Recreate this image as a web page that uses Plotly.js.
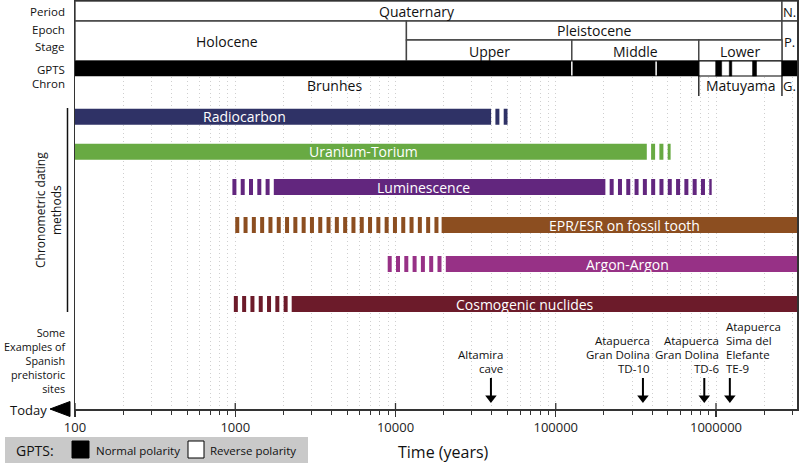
<!DOCTYPE html>
<html><head><meta charset="utf-8">
<script src="https://cdn.plot.ly/plotly-3.0.1.min.js"></script>
<style>html,body{margin:0;padding:0;background:#fff}#chart{width:800px;height:465px}</style>
</head><body><div id="chart"></div>
<script>
// ---------------- data ----------------
const methods = ['Radiocarbon','Uranium-Torium','Luminescence','EPR/ESR on fossil tooth','Argon-Argon','Cosmogenic nuclides'];
const solidStart = [100, 100, 1740, 19400, 20600, 2250];
const solidEnd   = [39500, 370000, 204000, 3300000, 3300000, 3300000];
const dashBefore = [null, null, 960, 1000, 8940, 980];
const dashAfter  = [50000, 521000, 940000, null, null, null];

const periodNames = ['Quaternary', 'N.'];
const periodBounds = [100, 2580000, 3300000];
const epochNames = ['Holocene', 'Pleistocene'];
const epochBounds = [100, 11700, 2580000];
const stageNames = ['Upper', 'Middle', 'Lower'];
const stageBounds = [11700, 126000, 781000, 2580000];
const normalStart = [100, 995000, 1210000, 1690000, 2580000];
const normalEnd   = [781000, 1085000, 1255000, 1790000, 3300000];
const reverseStart = [781000];
const reverseEnd   = [2580000];
const gptsMarks = [126000, 423000];
const chronNames = ['Brunhes', 'Matuyama', 'G.'];
const chronBounds = [100, 781000, 2580000, 3300000];

const sites = ['Altamira cave', 'Atapuerca Gran Dolina TD-10', 'Atapuerca Gran Dolina TD-6', 'Atapuerca Sima del Elefante TE-9'];
const siteAges = [39400, 350000, 845000, 1220000];

const tickVals = [100, 1000, 10000, 100000, 1000000];
const tickText = ['100', '1000', '10000', '100000', '1000000'];

// ---------------- styling / layout ----------------
const colors = ['#2f3266', '#68aa43', '#62267e', '#8c4e20', '#973186', '#6c1b2a'];
const rowCenters = [116.7, 151.7, 187, 225, 264, 304];
const barH = 16;
const labelPos = [3.055, 3.80, 4.172, 5.43, 5.45, 4.811];
const siteLabelLines = [['Altamira', 'cave'], ['Atapuerca', 'Gran Dolina', 'TD-10'], ['Atapuerca', 'Gran Dolina', 'TD-6'], ['Atapuerca', 'Sima del', 'Elefante', 'TE-9']];
const siteLabelShift = [13, 8, 16, -5];
const siteLabelAnchor = ['right', 'right', 'right', 'left'];

const FONT = 'Open Sans, Noto Sans, sans-serif';
const L = 75, R = 3, T = 1, B = 56, W = 800, H = 465;
const pw = W - L - R, ph = H - T - B;
const PX = x => (x - L) / pw;
const PY = y => (H - B - y) / ph;
const XMAX = 2 + pw / 160.25;
const lg = Math.log10;

const traces = [];
traces.push({
  type: 'bar', orientation: 'h', y: rowCenters, base: solidStart,
  x: solidEnd.map((e, i) => e - solidStart[i]), width: barH,
  marker: {color: colors, line: {width: 0}}, hoverinfo: 'skip', showlegend: false
});
methods.forEach((m, i) => {
  if (dashBefore[i] !== null) traces.push({type: 'scatter', mode: 'lines', x: [dashBefore[i], solidStart[i]], y: [rowCenters[i], rowCenters[i]],
    line: {color: colors[i], width: barH, dash: '4px,4.3px'}, hoverinfo: 'skip', showlegend: false});
  if (dashAfter[i] !== null) traces.push({type: 'scatter', mode: 'lines', x: [solidEnd[i], dashAfter[i]], y: [rowCenters[i], rowCenters[i]],
    line: {color: colors[i], width: barH, dash: '0px,4.3px,4px,0px'}, hoverinfo: 'skip', showlegend: false});
});
siteAges.forEach(a => {
  traces.push({type: 'scatter', mode: 'lines', x: [a, a], y: [378, 396], line: {color: '#000', width: 2}, hoverinfo: 'skip', showlegend: false});
  traces.push({type: 'scatter', mode: 'markers', x: [a], y: [398], marker: {symbol: 'triangle-down', size: 10, color: '#000'}, hoverinfo: 'skip', showlegend: false});
});

const shapes = [];
const box = (x0, x1, y0, y1, fill, lc, lw) => shapes.push({type: 'rect', xref: 'x', yref: 'y', x0, x1, y0, y1, fillcolor: fill, line: {color: lc, width: lw}, layer: 'between'});
const lineS = (x0, x1, y0, y1, c, w, xref, yref, layer) => shapes.push({type: 'line', xref: xref || 'x', yref: yref || 'y', x0, x1, y0, y1, line: {color: c, width: w}, layer: layer || 'between'});
const BOX = '#444';
for (let i = 0; i < periodNames.length; i++) box(periodBounds[i], periodBounds[i + 1], 1, 21, '#fff', BOX, 1.4);
box(epochBounds[0], epochBounds[1], 21, 61, '#fff', BOX, 1.4);
box(epochBounds[1], epochBounds[2], 21, 40, '#fff', BOX, 1.4);
box(periodBounds[1], periodBounds[2], 21, 61, '#fff', BOX, 1.4);
for (let i = 0; i < stageNames.length; i++) box(stageBounds[i], stageBounds[i + 1], 40, 61, '#fff', BOX, 1.4);
for (let i = 0; i < reverseStart.length; i++) box(reverseStart[i], reverseEnd[i], 61, 76, '#fff', '#000', 1.2);
for (let i = 0; i < normalStart.length; i++) box(normalStart[i], normalEnd[i], 61, 76, '#000', '#000', 0.5);
gptsMarks.forEach(v => lineS(v, v, 61.5, 75.5, '#fff', 1.5));
[chronBounds[1], chronBounds[2]].forEach(v => lineS(v, v, 76, 96, '#111', 1.3));
tickVals.forEach(v => lineS(v, v, 403, 409, '#333', 1.3, 'x', 'y', 'above'));
// left bracket line
lineS(PX(67.5), PX(67.5), PY(108), PY(312), '#111', 1.5, 'paper', 'paper', 'above');
// Today triangle
shapes.push({type: 'path', xref: 'paper', yref: 'paper', path: `M${PX(50)},${PY(409)} L${PX(70)},${PY(401.5)} L${PX(70)},${PY(416.5)} Z`, fillcolor: '#000', line: {color: '#000', width: 1}});
// legend
shapes.push({type: 'rect', xref: 'paper', yref: 'paper', x0: PX(5), x1: PX(308), y0: PY(437), y1: PY(463), fillcolor: '#c9c9c9', line: {width: 0}});
shapes.push({type: 'rect', xref: 'paper', yref: 'paper', x0: PX(72), x1: PX(89), y0: PY(441), y1: PY(458), fillcolor: '#000', line: {color: '#000', width: 1}});
shapes.push({type: 'rect', xref: 'paper', yref: 'paper', x0: PX(188), x1: PX(204), y0: PY(441), y1: PY(458), fillcolor: '#fff', line: {color: '#000', width: 1}});

const ann = [];
const A = (o) => ann.push(Object.assign({showarrow: false, xanchor: 'center', yanchor: 'middle', font: {family: FONT, size: 14, color: '#111'}}, o));
// header labels
const mid = (a, b) => (lg(a) + lg(b)) / 2;
const SF = {family: FONT, size: 13, color: '#111'};
A({text: periodNames[0], xref: 'x', yref: 'y', x: 4.134, y: 11.5});
A({text: periodNames[1], xref: 'x', yref: 'y', x: (lg(periodBounds[1]) + XMAX) / 2, y: 11.5, font: SF});
A({text: epochNames[0], xref: 'x', yref: 'y', x: 2.949, y: 41.5});
A({text: epochNames[1], xref: 'x', yref: 'y', x: mid(epochBounds[1], epochBounds[2]), y: 30.5});
A({text: 'P.', xref: 'x', yref: 'y', x: (lg(periodBounds[1]) + XMAX) / 2, y: 41.5, font: SF});
stageNames.forEach((s, i) => A({text: s, xref: 'x', yref: 'y', x: mid(stageBounds[i], stageBounds[i + 1]), y: 51.5}));
A({text: chronNames[0], xref: 'x', yref: 'y', x: 3.62, y: 85.5});
A({text: chronNames[1], xref: 'x', yref: 'y', x: mid(chronBounds[1], chronBounds[2]), y: 85.5});
A({text: chronNames[2], xref: 'x', yref: 'y', x: (lg(chronBounds[2]) + XMAX) / 2, y: 85.5, font: SF});
// method labels
methods.forEach((m, i) => A({text: m, xref: 'x', yref: 'y', x: labelPos[i], y: rowCenters[i], font: {family: FONT, size: 14, color: '#fff'}}));
// left labels
const LF = {family: FONT, size: 11.5, color: '#111'};
[['Period', 11], ['Epoch', 29], ['Stage', 46], ['GPTS', 69], ['Chron', 83]].forEach(([t, y]) => A({text: t, xref: 'paper', yref: 'y', x: PX(67), y, xanchor: 'right', font: LF}));
A({text: 'Some<br>Examples of<br>Spanish<br>prehistoric<br>sites', xref: 'paper', yref: 'y', x: PX(67), y: 360.5, xanchor: 'right', align: 'right', borderpad: 0, font: {family: FONT, size: 10.8, color: '#111'}});
A({text: 'Chronometric dating<br>methods', xref: 'paper', yref: 'y', x: PX(48.5), y: 210.5, textangle: -90, font: {family: FONT, size: 12, color: '#111'}});
// site labels
siteAges.forEach((a, i) => {
  const lines = siteLabelLines[i];
  lines.forEach((t, j) => A({text: t, xref: 'x', yref: 'y', x: lg(a), xshift: siteLabelShift[i], xanchor: siteLabelAnchor[i],
    y: 368.5 - (lines.length - 1 - j) * 14, borderpad: 0, font: {family: FONT, size: 11.5, color: '#111'}}));
});
// today + axis title + legend texts
A({text: 'Today', xref: 'paper', yref: 'paper', x: PX(48.5), y: PY(410), xanchor: 'right', font: {family: FONT, size: 13, color: '#111'}});
A({text: 'Time (years)', xref: 'paper', yref: 'paper', x: PX(443), y: PY(452), font: {family: FONT, size: 16, color: '#111'}});
A({text: 'GPTS:', xref: 'paper', yref: 'paper', x: PX(14), y: PY(450), xanchor: 'left', font: {family: FONT, size: 14, color: '#111'}});
A({text: 'Normal polarity', xref: 'paper', yref: 'paper', x: PX(94), y: PY(450), xanchor: 'left', font: {family: FONT, size: 11.5, color: '#111'}});
A({text: 'Reverse polarity', xref: 'paper', yref: 'paper', x: PX(208), y: PY(450), xanchor: 'left', font: {family: FONT, size: 11.5, color: '#111'}});

const GRID = '#cfcfcf';
const layout = {
  width: W, height: H, margin: {l: L, r: R, t: T, b: B},
  paper_bgcolor: '#fff', plot_bgcolor: '#fff', showlegend: false, barmode: 'overlay',
  xaxis: {type: 'log', range: [2, XMAX], autorange: false, showline: true, mirror: true, linecolor: '#333', linewidth: 1.5,
    ticks: 'outside', ticklen: 6, tickwidth: 1.3, tickcolor: '#333', tickmode: 'array', tickvals: tickVals, ticktext: tickText,
    tickfont: {family: FONT, size: 13, color: '#222'}, showgrid: true, gridcolor: GRID, gridwidth: 1, griddash: '1px,3px',
    minor: {dtick: 'D1', ticks: 'outside', ticklen: 4, tickwidth: 1, tickcolor: '#333', showgrid: true, gridcolor: GRID, gridwidth: 1, griddash: '1px,3px'},
    zeroline: false, fixedrange: true},
  yaxis: {range: [409, 1], autorange: false, showline: true, mirror: true, linecolor: '#333', linewidth: 1.5, showgrid: false,
    zeroline: false, showticklabels: false, ticks: '', fixedrange: true},
  shapes, annotations: ann
};
Plotly.newPlot('chart', traces, layout, {staticPlot: true, displayModeBar: false});
</script></body></html>
